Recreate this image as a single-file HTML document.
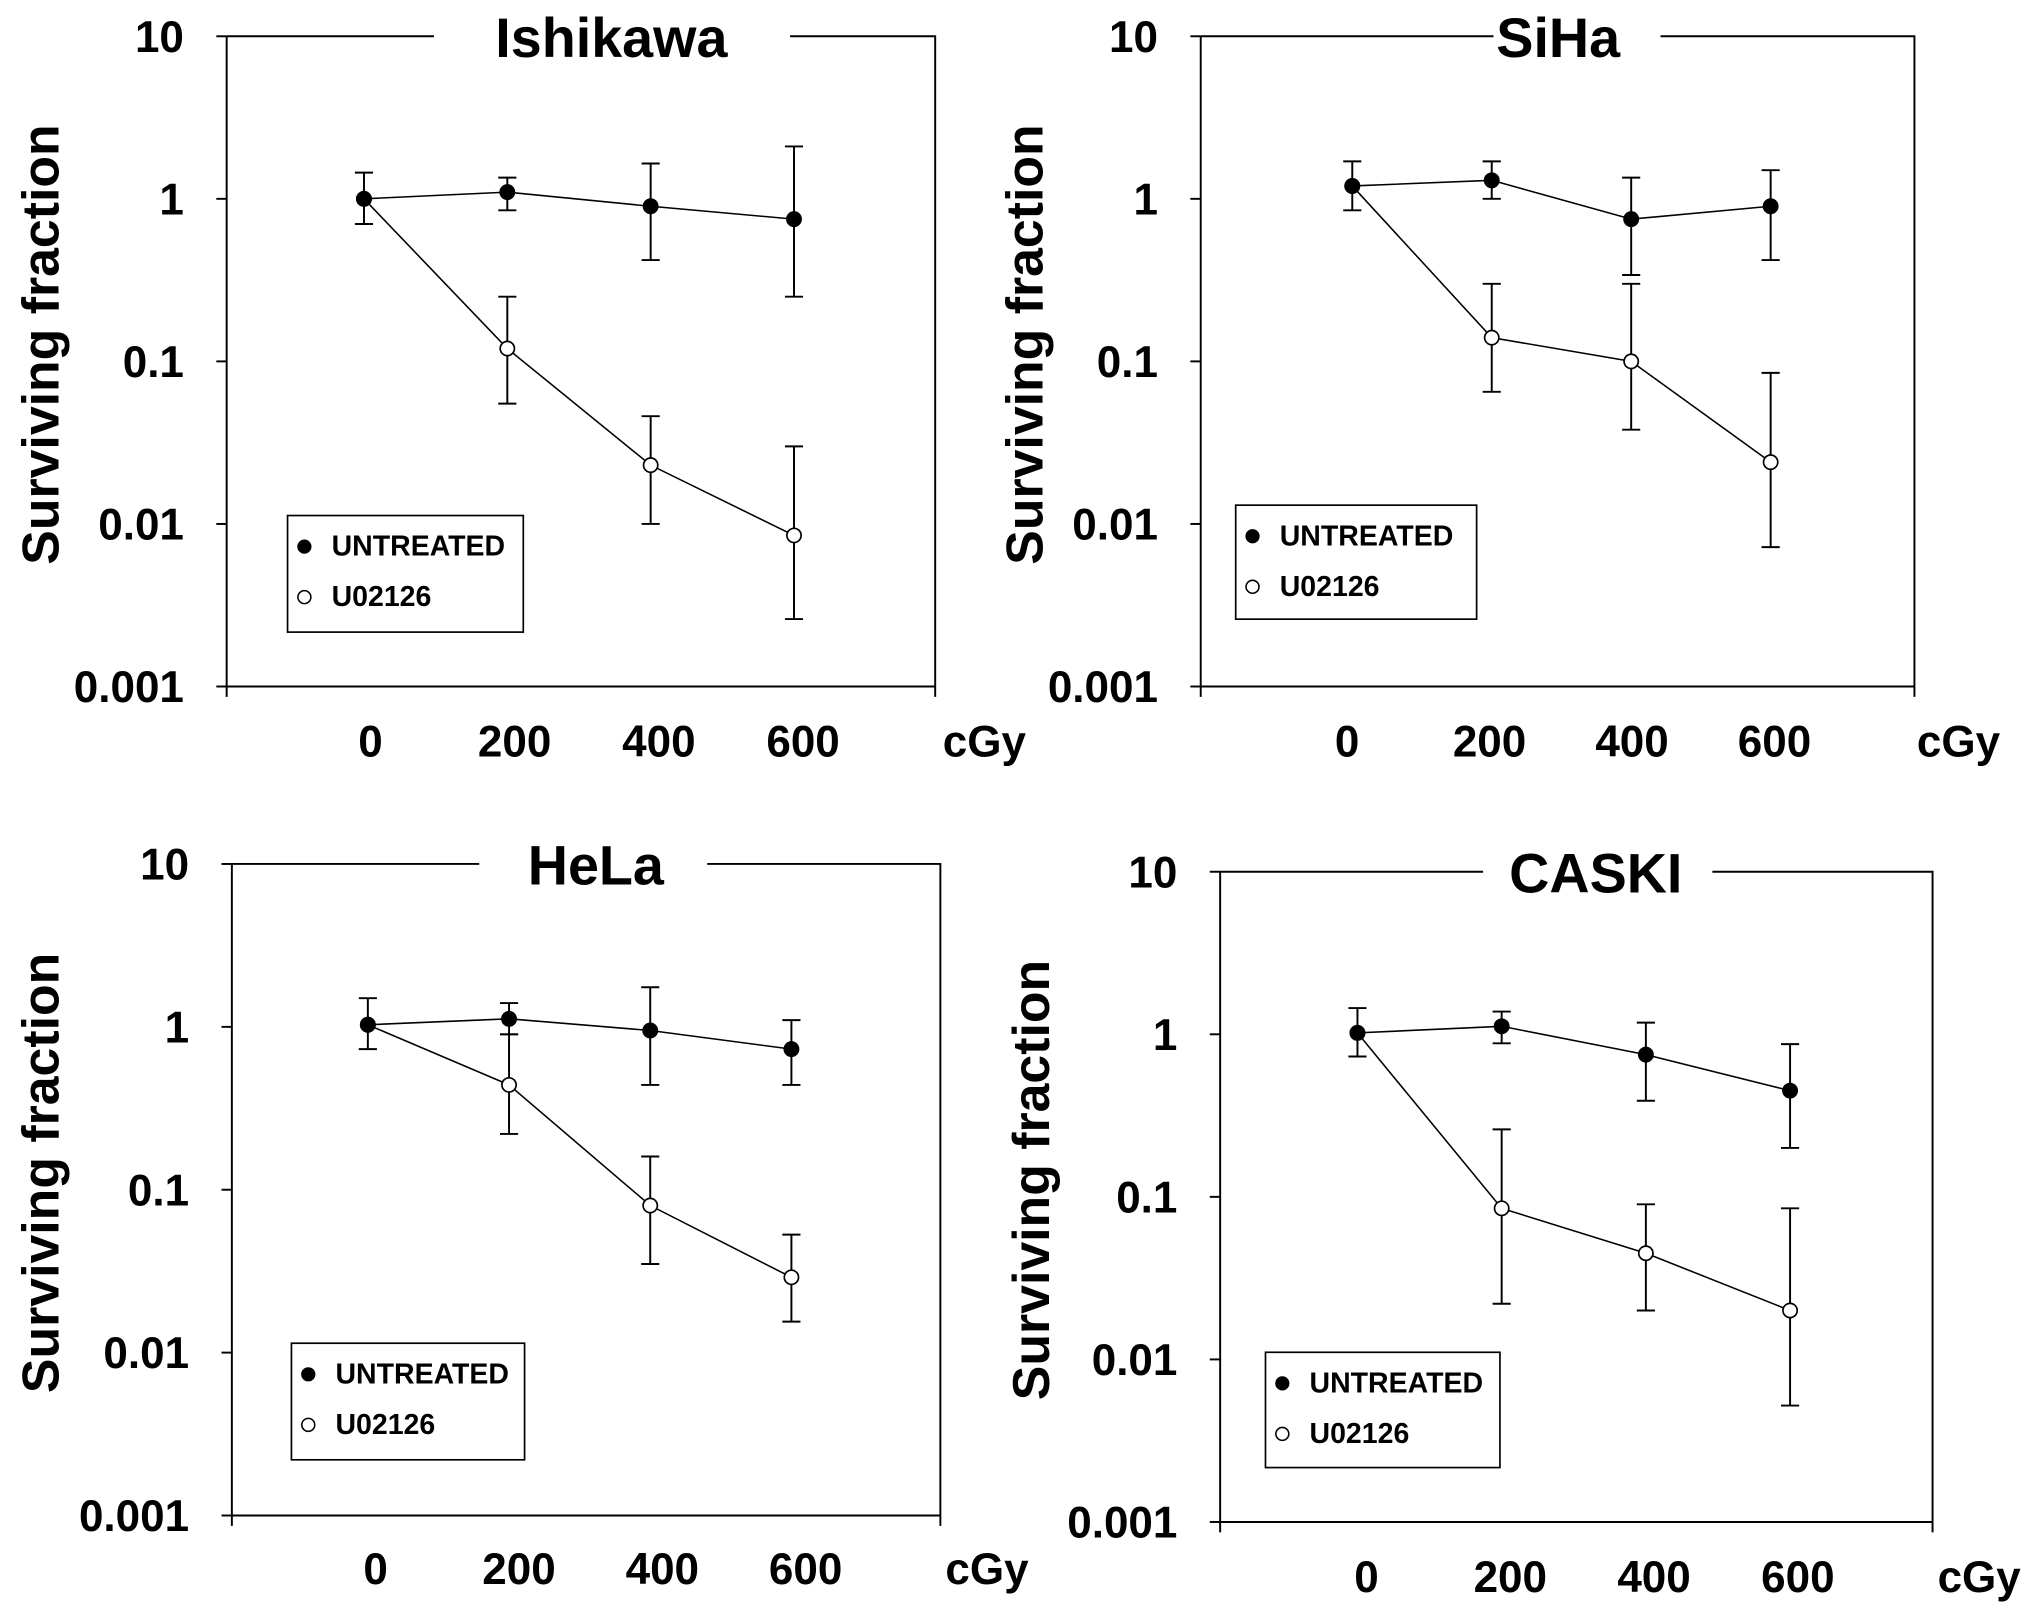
<!DOCTYPE html>
<html><head><meta charset="utf-8"><style>
html,body{margin:0;padding:0;background:#fff;}
svg{display:block;font-family:"Liberation Sans",Arial,sans-serif;font-weight:bold;}
</style></head><body>
<svg id="fig" width="2031" height="1612" viewBox="0 0 1568 1244.5" preserveAspectRatio="none" xmlns="http://www.w3.org/2000/svg"></svg>
<script>
// ---- data ----
const doses = [0, 200, 400, 600];
const yTicks = [10, 1, 0.1, 0.01, 0.001];
const yTickLabels = ["10", "1", "0.1", "0.01", "0.001"];
const xTickLabels = ["0", "200", "400", "600"];
const panelTitles = ["Ishikawa", "SiHa", "HeLa", "CASKI"];

const ishUntreated = [1.0, 1.1, 0.9, 0.75];
const ishUntreatedLo = [0.7, 0.85, 0.42, 0.25];
const ishUntreatedHi = [1.45, 1.35, 1.65, 2.1];
const ishU0126 = [1.0, 0.12, 0.023, 0.0085];
const ishU0126Lo = [1.0, 0.055, 0.010, 0.0026];
const ishU0126Hi = [1.0, 0.25, 0.046, 0.030];

const sihaUntreated = [1.2, 1.3, 0.75, 0.9];
const sihaUntreatedLo = [0.85, 1.0, 0.34, 0.42];
const sihaUntreatedHi = [1.7, 1.7, 1.35, 1.5];
const sihaU0126 = [1.2, 0.14, 0.1, 0.024];
const sihaU0126Lo = [1.2, 0.065, 0.038, 0.0072];
const sihaU0126Hi = [1.2, 0.3, 0.3, 0.085];

const helaUntreated = [1.03, 1.12, 0.95, 0.73];
const helaUntreatedLo = [0.73, 0.9, 0.44, 0.44];
const helaUntreatedHi = [1.5, 1.4, 1.75, 1.1];
const helaU0126 = [1.03, 0.44, 0.08, 0.029];
const helaU0126Lo = [1.03, 0.22, 0.035, 0.0155];
const helaU0126Hi = [1.03, 0.9, 0.16, 0.053];

const caskiUntreated = [1.02, 1.12, 0.75, 0.45];
const caskiUntreatedLo = [0.73, 0.88, 0.39, 0.2];
const caskiUntreatedHi = [1.45, 1.38, 1.18, 0.87];
const caskiU0126 = [1.02, 0.085, 0.045, 0.02];
const caskiU0126Lo = [1.02, 0.022, 0.02, 0.0052];
const caskiU0126Hi = [1.02, 0.26, 0.09, 0.085];

// ---- layout (pixels) ----
const layouts = [
 {ax:175, right:722, top:28, bottom:530, p0:281, p600:613, l0:286, l600:620, lblY:572, cgy:760, titleX:472, tgap:[335,610], ylabX:30, leg:[222,398,182,90],
  u:[ishUntreated,ishUntreatedLo,ishUntreatedHi], t:[ishU0126,ishU0126Lo,ishU0126Hi]},
 {ax:927, right:1478, top:28, bottom:530, p0:1044, p600:1367, l0:1040, l600:1370, lblY:572, cgy:1512, titleX:1203, tgap:[1153,1282], ylabX:790, leg:[954,390,186,88],
  u:[sihaUntreated,sihaUntreatedLo,sihaUntreatedHi], t:[sihaU0126,sihaU0126Lo,sihaU0126Hi]},
 {ax:179, right:726, top:667, bottom:1170, p0:284, p600:611, l0:290, l600:622, lblY:1211, cgy:762, titleX:460, tgap:[370,546], ylabX:30, leg:[225,1037,180,90],
  u:[helaUntreated,helaUntreatedLo,helaUntreatedHi], t:[helaU0126,helaU0126Lo,helaU0126Hi]},
 {ax:942, right:1492, top:673, bottom:1175, p0:1048, p600:1382, l0:1055, l600:1388, lblY:1217, cgy:1528, titleX:1232, tgap:[1145,1322], ylabX:795, leg:[977,1044,181,89],
  u:[caskiUntreated,caskiUntreatedLo,caskiUntreatedHi], t:[caskiU0126,caskiU0126Lo,caskiU0126Hi]}
];

const NS = "http://www.w3.org/2000/svg";
const svg = document.getElementById("fig");
function mk(tag, attrs, parent, text){
  const e = document.createElementNS(NS, tag);
  for (const k in attrs) e.setAttribute(k, attrs[k]);
  if (text !== undefined) e.textContent = text;
  (parent||svg).appendChild(e);
  return e;
}

layouts.forEach((L, pi) => {
  const g = mk("g", {});
  
  
  const dec = (L.bottom - L.top) / 4;
  const yS = v => L.top + (1 - Math.log10(v)) * dec;
  const xS = d => L.p0 + (d / 600) * (L.p600 - L.p0);
  const xL = d => L.l0 + (d / 600) * (L.l600 - L.l0);
  const ln = {stroke:"#000","stroke-width":1.5,fill:"none"};

  const fr = mk("path", Object.assign({d:`M${L.ax},${L.top}V${L.bottom}H${L.right}V${L.top}H${L.tgap[1]}M${L.tgap[0]},${L.top}H${L.ax}
    M${L.ax},${L.bottom}v8M${L.right},${L.bottom}v8`}, ln), g);
  
  

  yTicks.forEach((v, i) => {
    const y = yS(v);
    const tk = mk("line", Object.assign({x1:L.ax-8,x2:L.ax,y1:y,y2:y}, ln), g);
    
    
    const t = mk("text", {x:L.ax-33, y:y+12, "text-anchor":"end", "font-size":34}, g, yTickLabels[i]);
    
    
  });
  doses.forEach((d, i) => {
    const t = mk("text", {x:xL(d), y:L.lblY+12, "text-anchor":"middle", "font-size":34}, g, xTickLabels[i]);
    
    
  });
  const cg = mk("text", {x:L.cgy, y:L.lblY+12, "text-anchor":"middle", "font-size":34}, g, "cGy");
  
  

  const tt = mk("text", {x:L.titleX, y:L.top+16, "text-anchor":"middle", "font-size":43}, g, panelTitles[pi]);
  
  
  const cy = (L.top + L.bottom) / 2 - 13;
  const yl = mk("text", {x:0, y:0, transform:`translate(${L.ylabX+15},${cy}) rotate(-90)`, "text-anchor":"middle", "font-size":40}, g, "Surviving fraction");
  
  

  [[L.t, "#fff", "u02126"], [L.u, "#000", "untreated"]].forEach(([s, fill, nm]) => {
    const [vals, lo, hi] = s;
    const pl = mk("polyline", Object.assign({points: vals.map((v,i)=>xS(doses[i])+","+yS(v)).join(" ")}, ln, {"stroke-width":1.2}), g);
    
    
    vals.forEach((v, i) => {
      const x = xS(doses[i]);
      if (hi[i] !== lo[i]) {
        const eb = mk("path", Object.assign({d:`M${x},${yS(hi[i])}V${yS(lo[i])}M${x-7},${yS(hi[i])}h14M${x-7},${yS(lo[i])}h14`}, ln), g);
        
        
      }
    });
    vals.forEach((v, i) => {
      const c = mk("circle", {cx:xS(doses[i]), cy:yS(v), r:5.5, fill:fill, stroke:"#000", "stroke-width":1.3}, g);
      
      
    });
  });

  const [lx, ly, lw, lh] = L.leg;
  const lg = mk("g", {}, g);
  
  
  mk("rect", {x:lx, y:ly, width:lw, height:lh, fill:"#fff", stroke:"#000", "stroke-width":1.3}, lg);
  const e1 = mk("g", {}, lg);
  
  
  mk("circle", {cx:lx+13, cy:ly+24, r:5, fill:"#000", stroke:"#000"}, e1);
  mk("text", {x:lx+34, y:ly+31, "font-size":22}, e1, "UNTREATED");
  const e2 = mk("g", {}, lg);
  
  
  mk("circle", {cx:lx+13, cy:ly+63, r:5, fill:"#fff", stroke:"#000", "stroke-width":1.2}, e2);
  mk("text", {x:lx+34, y:ly+70, "font-size":22}, e2, "U02126");
});
</script>
</body></html>
